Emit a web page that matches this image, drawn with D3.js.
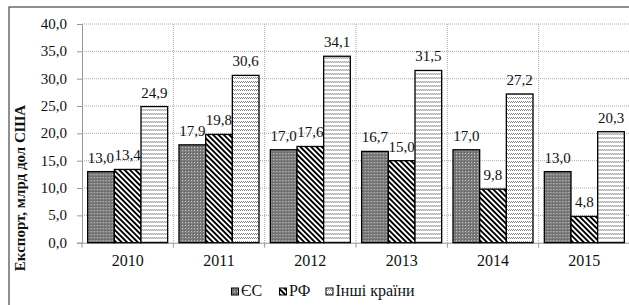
<!DOCTYPE html>
<html><head><meta charset="utf-8">
<script src="https://cdn.jsdelivr.net/npm/d3@7"></script>
<style>body{margin:0;background:#fff}svg{display:block}</style>
</head><body><svg id="c" width="629" height="305"></svg>
<script>
const years = ["2010","2011","2012","2013","2014","2015"];
const seriesNames = ["ЄС","РФ","Інші країни"];
const eu = [13.0,17.9,17.0,16.7,17.0,13.0];
const rf = [13.4,19.8,17.6,15.0,9.8,4.8];
const other = [24.9,30.6,34.1,31.5,27.2,20.3];
const yTicks = [0,5,10,15,20,25,30,35,40];
const yTitle = "Експорт, млрд дол США";

(function(){
const FONT = "'Times New Roman', 'Liberation Serif', Tinos, serif";
const values = [eu, rf, other];
const svg = d3.select("#c");
const defs = svg.append("defs");

// patterns
const p1 = defs.append("pattern").attr("id","pEU").attr("patternUnits","userSpaceOnUse").attr("width",3).attr("height",3);
p1.append("rect").attr("width",3).attr("height",3).attr("fill","#7c7c7c");
p1.append("rect").attr("x",0).attr("y",0).attr("width",1).attr("height",1).attr("fill","#c4c4c4");
p1.append("rect").attr("x",2).attr("y",2).attr("width",1).attr("height",1).attr("fill","#5a5a5a");
const p2 = defs.append("pattern").attr("id","pRF").attr("patternUnits","userSpaceOnUse").attr("width",3.8).attr("height",10).attr("patternTransform","rotate(-45)");
p2.append("rect").attr("width",3.8).attr("height",10).attr("fill","#fff");
p2.append("rect").attr("width",1.9).attr("height",10).attr("fill","#000");
const p3 = defs.append("pattern").attr("id","pOT").attr("patternUnits","userSpaceOnUse").attr("width",4).attr("height",4);
p3.append("rect").attr("width",4).attr("height",4).attr("fill","#fff");
[[0,1],[1,2],[2,1],[3,2]].forEach(([px,py])=>p3.append("rect").attr("x",px).attr("y",py).attr("width",1).attr("height",1).attr("fill","#8a8a8a"));
const fills = ["url(#pEU)","url(#pRF)","url(#pOT)"];

// frame
svg.append("rect").attr("x",9).attr("y",7).attr("width",640).attr("height",320).attr("fill","none").attr("stroke","#555").attr("stroke-width",1.3);

const pL = 82, pR = 630, pT = 24, pB = 242.7;
const x = d3.scaleBand().domain(years).range([pL,pR]).paddingInner(0.124).paddingOuter(0.062);
const xs = d3.scaleBand().domain(seriesNames).range([0,x.bandwidth()]);
const y = d3.scaleLinear().domain([0,40]).range([pB,pT]);
const step = x.step();

// horizontal grid
svg.append("g").selectAll("line").data(yTicks.slice(1)).join("line")
  .attr("x1",pL).attr("x2",pR).attr("y1",d=>y(d)).attr("y2",d=>y(d))
  .attr("stroke","#aaa").attr("stroke-width",1).attr("stroke-dasharray","1,1");
// vertical grid
svg.append("g").selectAll("line").data(d3.range(1,years.length)).join("line")
  .attr("x1",d=>pL+d*step).attr("x2",d=>pL+d*step).attr("y1",pT).attr("y2",pB)
  .attr("stroke","#aaa").attr("stroke-width",1).attr("stroke-dasharray","1,1");

// y axis
const ya = d3.axisLeft(y).tickValues(yTicks).tickSize(5).tickPadding(10).tickFormat(d=>d3.format(".1f")(d).replace(".",","));
const yg = svg.append("g").attr("transform",`translate(${pL},0)`).call(ya);
yg.attr("font-family",FONT).attr("font-size",15);
yg.select(".domain").attr("stroke","#999");
yg.selectAll(".tick line").attr("stroke","#999");
yg.selectAll("text").attr("fill","#111").attr("dy","0.3em").attr("font-family",FONT);

// x axis
const xa = d3.axisBottom(x).tickSize(0).tickPadding(12);
const xg = svg.append("g").attr("transform",`translate(0,${pB})`).call(xa);
xg.attr("font-family",FONT).attr("font-size",16);
xg.select(".domain").attr("stroke","#999");
xg.selectAll("text").attr("fill","#111").attr("font-family",FONT);
svg.append("g").selectAll("line").data(d3.range(0,years.length+1)).join("line")
  .attr("x1",d=>pL+d*step).attr("x2",d=>pL+d*step).attr("y1",pB).attr("y2",pB+5)
  .attr("stroke","#999");

// bars
const groups = svg.append("g").selectAll("g").data(years).join("g").attr("transform",d=>`translate(${x(d)},0)`);
groups.each(function(yr,i){
  const g = d3.select(this);
  seriesNames.forEach((s,j)=>{
    const v = values[j][i];
    g.append("rect").attr("x",xs(s)).attr("y",y(v)).attr("width",xs.bandwidth()).attr("height",y(0)-y(v))
      .attr("fill",fills[j]).attr("stroke","#000").attr("stroke-width",1.3);
  });
  seriesNames.forEach((s,j)=>{
    const v = values[j][i];
    g.append("text").attr("x",xs(s)+xs.bandwidth()/2).attr("y",y(v)-9).attr("text-anchor","middle")
      .attr("font-family",FONT).attr("font-size",15).attr("fill","#111")
      .text(d3.format(".1f")(v).replace(".",","));
  });
});

// y title
svg.append("text").attr("transform","translate(25,188) rotate(-90)").attr("text-anchor","middle")
  .attr("font-family",FONT).attr("font-size",15).attr("font-weight","bold").attr("fill","#111").text(yTitle);

// legend
const legX = [231.5, 279.5, 326];
const lg = svg.append("g");
seriesNames.forEach((s,j)=>{
  lg.append("rect").attr("x",legX[j]).attr("y",288).attr("width",7).attr("height",7).attr("fill",fills[j]).attr("stroke","#000").attr("stroke-width",1);
  lg.append("text").attr("x",legX[j]+9.5).attr("y",296).attr("font-family",FONT).attr("font-size",16).attr("fill","#111").text(s);
});
})();
</script></body></html>
